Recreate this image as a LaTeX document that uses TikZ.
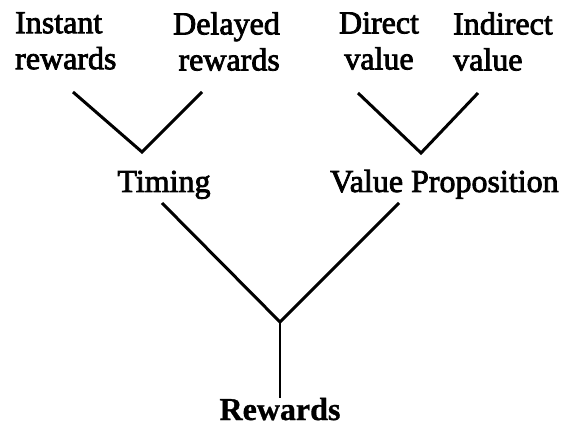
\documentclass[tikz,border=0pt]{standalone}
\usepackage{fontspec}
\setmainfont{Liberation Serif}[FakeBold=2.5, BoldFont={Liberation Serif Bold}, BoldFeatures={FakeBold=1}]
\begin{document}
\begin{tikzpicture}[x=1pt,y=-1pt,
  lbl/.style={inner sep=0pt, font=\fontsize{32}{36}\selectfont},
  conn/.style={line width=3pt, line join=miter, line cap=butt}]
\useasboundingbox (0,0) rectangle (567,427);
% top labels
\node[lbl, anchor=north west, align=left] (instant) at (15,12) {Instant\\rewards};
\node[lbl, anchor=north east, align=right] (delayed) at (280,12) {Delayed\\rewards};
\node[lbl, anchor=north, align=center] (direct) at (379,12) {Direct\\value};
\node[lbl, anchor=north west, align=left] (indirect) at (453,12) {Indirect\\value};
% middle labels
\node[lbl, anchor=base] (timing) at (164,192) {Timing};
\node[lbl, anchor=base west] (vp) at (330,192) {Value Proposition};
% bottom label
\node[lbl, anchor=base, font=\fontsize{32}{35}\selectfont\bfseries] (rewards) at (280,420) {Rewards};
% connector coordinates
\coordinate (a1) at (73,92);
\coordinate (j1) at (142,152);
\coordinate (b1) at (202,92);
\coordinate (a2) at (358,93);
\coordinate (j2) at (421,153);
\coordinate (b2) at (478,93);
\coordinate (t1) at (162,203);
\coordinate (j3) at (280,322);
\coordinate (v1) at (399,203);
\coordinate (r1) at (280,398);
\draw[conn] (a1) -- (j1) -- (b1);
\draw[conn] (a2) -- (j2) -- (b2);
\draw[conn] (t1) -- (j3) -- (v1);
\draw[conn, line width=2.5pt] (j3) -- (r1);
\end{tikzpicture}
\end{document}
